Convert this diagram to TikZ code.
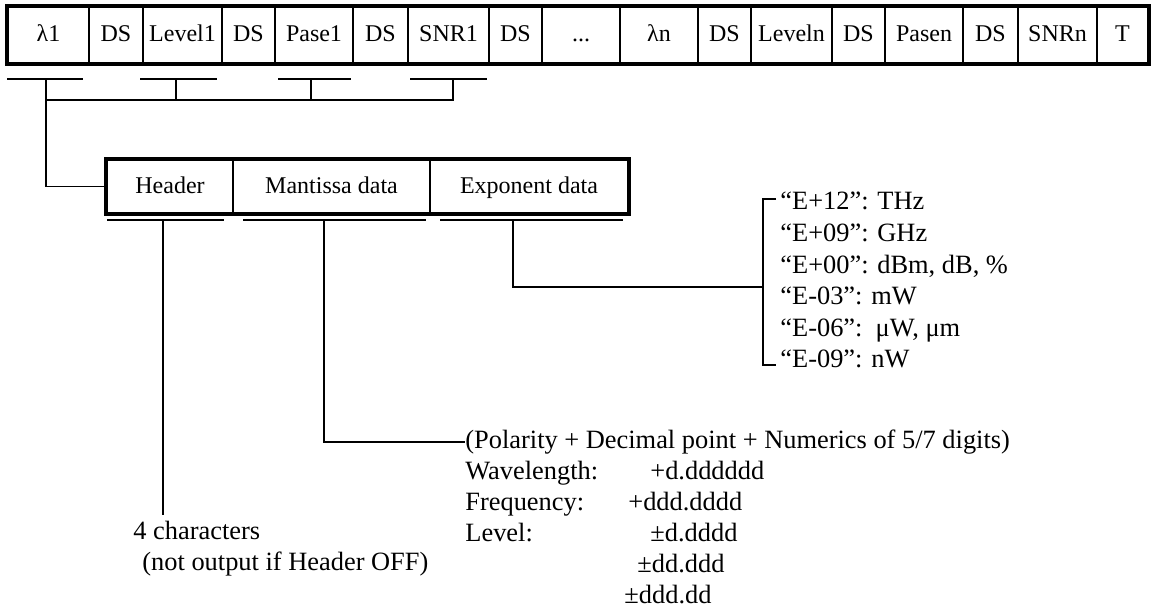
\documentclass[tikz,border=0pt]{standalone}
\usepackage{fontspec}
\setmainfont{Liberation Serif}
\begin{document}
\begin{tikzpicture}[x=0.5pt,y=-0.5pt,
  cell/.style={draw, line width=0.7pt, minimum height=28pt, inner sep=0pt, text height=9pt, text depth=2pt, font=\fontsize{12}{14}\selectfont},
  hcell/.style={draw, line width=0.7pt, minimum height=26.5pt, inner sep=0pt, text height=9pt, text depth=2pt, font=\fontsize{12}{14}\selectfont},
  thickborder/.style={draw, line width=2pt},
  conn/.style={draw, line width=0.7pt},
  uline/.style={draw, line width=0.9pt},
  txt/.style={anchor=base west, inner sep=0pt, font=\fontsize{13.2}{15.8}\selectfont}]
\useasboundingbox (0,0) rectangle (1152,608);
% top record
\node[cell, minimum width=40.5pt] (c1) at (48.5,35) {λ1};
\node[cell, minimum width=27pt]   (c2) at (116,35) {DS};
\node[cell, minimum width=39.5pt] (c3) at (182.5,35) {Level1};
\node[cell, minimum width=26.5pt] (c4) at (248.5,35) {DS};
\node[cell, minimum width=39pt]   (c5) at (314,35) {Pase1};
\node[cell, minimum width=27.5pt] (c6) at (380.5,35) {DS};
\node[cell, minimum width=40.5pt] (c7) at (448.5,35) {SNR1};
\node[cell, minimum width=26.5pt] (c8) at (515.5,35) {DS};
\node[cell, minimum width=39pt]   (c9) at (581,35) {...};
\node[cell, minimum width=39pt]   (c10) at (659,35) {λn};
\node[cell, minimum width=26.5pt] (c11) at (724.5,35) {DS};
\node[cell, minimum width=40.5pt] (c12) at (791.5,35) {Leveln};
\node[cell, minimum width=26.5pt] (c13) at (858.5,35) {DS};
\node[cell, minimum width=39pt]   (c14) at (924,35) {Pasen};
\node[cell, minimum width=27.5pt] (c15) at (990.5,35) {DS};
\node[cell, minimum width=39.5pt] (c16) at (1057.5,35) {SNRn};
\node[cell, minimum width=25.5pt] (c17) at (1122.5,35) {T};
\draw[thickborder] (c1.north west) rectangle (c17.south east);
% underlines under the top record
\coordinate (u1a) at (7,79);   \coordinate (u1b) at (83,79);
\coordinate (u2a) at (140,79); \coordinate (u2b) at (217,79);
\coordinate (u3a) at (278,79); \coordinate (u3b) at (351,79);
\coordinate (u4a) at (410,79); \coordinate (u4b) at (487,79);
\draw[uline] (u1a) -- (u1b);
\draw[uline] (u2a) -- (u2b);
\draw[uline] (u3a) -- (u3b);
\draw[uline] (u4a) -- (u4b);
\coordinate (t1) at (46,79);  \coordinate (t2) at (176,79);
\coordinate (t3) at (311,79); \coordinate (t4) at (453,79);
\coordinate (j1) at (46,100); \coordinate (j4) at (453,100);
\draw[conn] (t2) -- (t2 |- j1);
\draw[conn] (t3) -- (t3 |- j1);
\draw[conn] (t4) -- (j4) -- (j1);
% data box
\node[hcell, minimum width=63pt]   (h1) at (170,186.5) {Header};
\node[hcell, minimum width=98.5pt] (h2) at (331.5,186.5) {Mantissa data};
\node[hcell, minimum width=99pt]   (h3) at (529,186.5) {Exponent data};
\draw[thickborder] (h1.north west) rectangle (h3.south east);
\draw[conn] (t1) -- (t1 |- h1.west) -- (h1.west);
% underlines under the data box
\coordinate (v1a) at (107,220); \coordinate (v1b) at (224,220);
\coordinate (v2a) at (243,220); \coordinate (v2b) at (426,220);
\coordinate (v3a) at (440,220); \coordinate (v3b) at (623,220);
\draw[uline] (v1a) -- (v1b);
\draw[uline] (v2a) -- (v2b);
\draw[uline] (v3a) -- (v3b);
% exponent list
\node[txt] (e1) at (780,210)   {“E+12”: THz};
\node[txt] (e2) at (780,241.6) {“E+09”: GHz};
\node[txt] (e3) at (780,273.2) {“E+00”: dBm, dB, \%};
\node[txt] (e4) at (780,304.8) {“E-03”: mW};
\node[txt] (e5) at (780,336.4) {“E-06”:\ \ μW, μm};
\node[txt] (e6) at (780,368)   {“E-09”: nW};
\coordinate (bt) at (763,199); \coordinate (bb) at (763,365);
\draw[conn] ([xshift=6.5pt]bt) -- (bt) -- (bb) -- ([xshift=6.5pt]bb);
\coordinate (ex) at (513,220);
\draw[conn] (ex) -- (513,287) -- (bt |- 0,287);
% mantissa description
\node[txt] (m0) at (465,449) {(Polarity + Decimal point + Numerics of 5/7 digits)};
\node[txt] (m1) at (465,480) {Wavelength:};
\node[txt] (m1v) at (650,480) {+d.dddddd};
\node[txt] (m2) at (465,511) {Frequency:};
\node[txt] (m2v) at (628,511) {+ddd.dddd};
\node[txt] (m3) at (465,542) {Level:};
\node[txt] (m3v) at (650,542) {±d.dddd};
\node[txt] (m4v) at (637,573) {±dd.ddd};
\node[txt] (m5v) at (624,604) {±ddd.dd};
\coordinate (mx) at (324,220);
\draw[conn] (mx) -- (324,442) -- (m0.west |- 0,442);
% header description
\node[txt] (hd1) at (133,540) {4 characters};
\node[txt] (hd2) at (142,571) {(not output if Header OFF)};
\coordinate (hx) at (163,220);
\draw[conn] (hx) -- (163,515);
\end{tikzpicture}
\end{document}
